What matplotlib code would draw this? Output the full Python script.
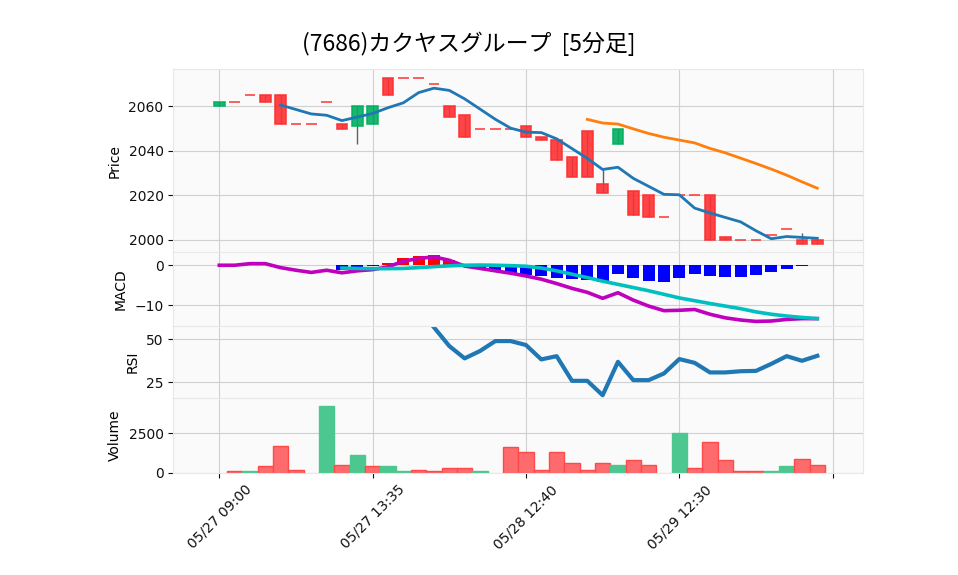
import matplotlib
matplotlib.use('Agg')
import matplotlib.pyplot as plt
import numpy as np
import pandas as pd

TITLE = '(7686)カクヤスグループ  [5分足]'

# 5-minute bars
opens = [2060, 2062, 2065, 2065, 2065, 2052, 2052, 2062, 2052, 2051,
         2052, 2073, 2073, 2073, 2070, 2060, 2056, 2050, 2050, 2050,
         2051, 2046, 2045, 2037, 2049, 2025, 2043, 2022, 2020, 2010,
         2020, 2020, 2020, 2001, 2000, 2000, 2002, 2005, 2000, 2000]
highs = [2062, 2062, 2065, 2065, 2065, 2052, 2052, 2062, 2052, 2060,
         2060, 2073, 2073, 2073, 2070, 2060, 2056, 2050, 2050, 2050,
         2051, 2046, 2045, 2037, 2049, 2032, 2050, 2022, 2020, 2010,
         2020, 2020, 2020, 2001, 2000, 2000, 2002, 2005, 2003, 2000]
lows = [2060, 2062, 2065, 2062, 2052, 2052, 2052, 2062, 2050, 2043,
        2052, 2065, 2073, 2073, 2070, 2055, 2046, 2050, 2050, 2050,
        2046, 2045, 2036, 2028, 2028, 2021, 2043, 2011, 2010, 2010,
        2020, 2020, 2000, 2000, 2000, 2000, 2002, 2005, 1998, 1998]
closes = [2062, 2062, 2065, 2062, 2052, 2052, 2052, 2062, 2050, 2060,
          2060, 2065, 2073, 2073, 2070, 2055, 2046, 2050, 2050, 2050,
          2046, 2045, 2036, 2028, 2028, 2021, 2050, 2011, 2010, 2010,
          2020, 2020, 2000, 2000, 2000, 2000, 2002, 2005, 1998, 1998]
volumes = [0, 100, 100, 400, 1700, 200, 0, 4200, 500, 1100,
           400, 400, 100, 200, 100, 300, 300, 100, 0, 1600,
           1300, 200, 1300, 600, 200, 600, 500, 800, 500, 0,
           2500, 300, 1950, 800, 100, 100, 100, 400, 900, 500]

macd = [0.0, 0.0, 0.4, 0.4, -0.6, -1.25, -1.8, -1.25, -1.9, -1.4,
        -1.1, -0.4, 1.0, 1.7, 2.1, 1.25, -0.2, -0.8, -1.4, -2.0,
        -2.7, -3.5, -4.6, -5.8, -6.8, -8.3, -6.9, -8.75, -10.25, -11.4,
        -11.3, -11.1, -12.3, -13.2, -13.75, -14.1, -14.0, -13.6, -13.4, -13.4]
signal = [np.nan] * 8 + [
    -0.7, -0.8, -0.85, -0.85, -0.8, -0.6, -0.35, -0.15, 0.0, 0.05, 0.0, -0.1,
    -0.25, -0.7, -1.4, -2.25, -3.1, -4.0, -4.8, -5.6, -6.4, -7.3,
    -8.2, -8.9, -9.6, -10.25, -10.9, -11.7, -12.3, -12.75, -13.1, -13.4]
rsi = [np.nan] * 14 + [
    57.0, 46.1, 38.9, 43.2, 49.0, 49.0, 46.7, 38.3, 40.2, 25.8,
    25.8, 17.4, 36.9, 26.2, 26.2, 30.1, 38.5, 36.3, 30.7, 30.7,
    31.4, 31.6, 35.7, 40.2, 37.5, 40.4]

tick_pos = [0, 10, 20, 30, 40]
tick_labels = ['05/27 09:00', '05/27 13:35', '05/28 12:40', '05/29 12:30', '']

UP, DOWN = '#00b060', '#fe3032'
VUP, VDOWN = '#4dc790', '#fd6b6c'

plt.rcParams['font.family'] = ['DejaVu Sans', 'Noto Sans CJK JP']

df = pd.DataFrame({'open': opens, 'high': highs, 'low': lows,
                   'close': closes, 'volume': volumes})
x = np.arange(len(df))
ma5 = df['close'].rolling(5).mean()
ma25 = df['close'].rolling(25).mean()

W, H = 958, 575
fig = plt.figure(figsize=(W / 100, H / 100), dpi=100)


def box(top, bottom):
    return [173.3 / W, 1 - bottom / H, 690 / W, (bottom - top) / H]


ax_p = fig.add_axes(box(69.3, 252.3))
ax_m = fig.add_axes(box(252.3, 326), sharex=ax_p)
ax_r = fig.add_axes(box(326, 398.3), sharex=ax_p)
ax_v = fig.add_axes(box(398.3, 472.7), sharex=ax_p)

for ax in (ax_p, ax_m, ax_r, ax_v):
    ax.set_facecolor('#fafafa')
    ax.set_axisbelow(True)
    ax.grid(True, color='#d0d0d0', linewidth=0.8)
    for sp in ax.spines.values():
        sp.set_color('#e8e8e8')
        sp.set_linewidth(0.8)
    ax.tick_params(axis='y', length=3.5, width=0.8, color='#101010',
                   labelsize=10, labelcolor='#101010')
    ax.set_xticks(tick_pos)

for ax in (ax_p, ax_m, ax_r):
    ax.tick_params(axis='x', length=0, labelbottom=False)

# candles
o = df['open'].values
c = df['close'].values
body_col = np.where(c > o, UP, DOWN)
ax_p.vlines(x, df['low'], df['high'], color='#606060', linewidth=1, zorder=2)
ax_p.bar(x, np.abs(c - o), bottom=np.minimum(o, c), width=0.7,
         color=body_col, edgecolor=body_col, linewidth=1.2, alpha=0.9, zorder=3)
ax_p.plot(x, ma5, color='#1f77b4', linewidth=2.0, zorder=4)
ax_p.plot(x, ma25, color='#ff7f0e', linewidth=2.0, zorder=4)
ax_p.set_ylim(1994.3, 2076.7)
ax_p.set_yticks([2000, 2020, 2040, 2060])
ax_p.set_ylabel('Price', fontsize=10, labelpad=5)

# MACD
hist = np.array(macd) - np.array(signal)
hist_col = np.where(hist >= 0, 'red', 'blue')
ax_m.bar(x, hist, width=0.8, color=hist_col, zorder=2)
ax_m.plot(x, macd, color='#bf00bf', linewidth=2.6, zorder=3)
ax_m.plot(x, signal, color='#00bfbf', linewidth=2.6, zorder=3)
ax_m.set_ylim(-15.25, 3.25)
ax_m.set_yticks([-10, 0])
ax_m.set_ylabel('MACD', fontsize=10, labelpad=5)

# RSI
ax_r.plot(x, rsi, color='#1f77b4', linewidth=3.0)
ax_r.set_ylim(15.6, 57.8)
ax_r.set_yticks([25, 50])
ax_r.set_ylabel('RSI', fontsize=10, labelpad=5)

# volume
vol = df['volume'].values
prev = np.r_[c[0], c[:-1]]
vcol = np.where(c > prev, VUP, VDOWN)
vedge = np.where(c > prev, VUP, '#fd4b4c')
ax_v.bar(x, vol, width=1.0, color=vcol, edgecolor=vedge,
         linewidth=np.where(vol > 0, 1.0, 0.0), zorder=2)
ax_v.set_ylim(0, 4720)
ax_v.set_yticks([0, 2500])
ax_v.set_ylabel('Volume', fontsize=10, labelpad=5)
ax_v.set_xticks(tick_pos)
ax_v.set_xticklabels(tick_labels, rotation=45, fontsize=10)
ax_v.tick_params(axis='x', length=3.5, width=0.8, color='#101010',
                 labelcolor='#101010')

ax_p.set_xlim(-3, 42)

fig.text(469 / W, 1 - 44 / H, TITLE, ha='center', va='center', fontsize=16.5,
         family=['Noto Sans CJK JP', 'DejaVu Sans'])

fig.savefig('out.png', dpi=100, facecolor='white')
